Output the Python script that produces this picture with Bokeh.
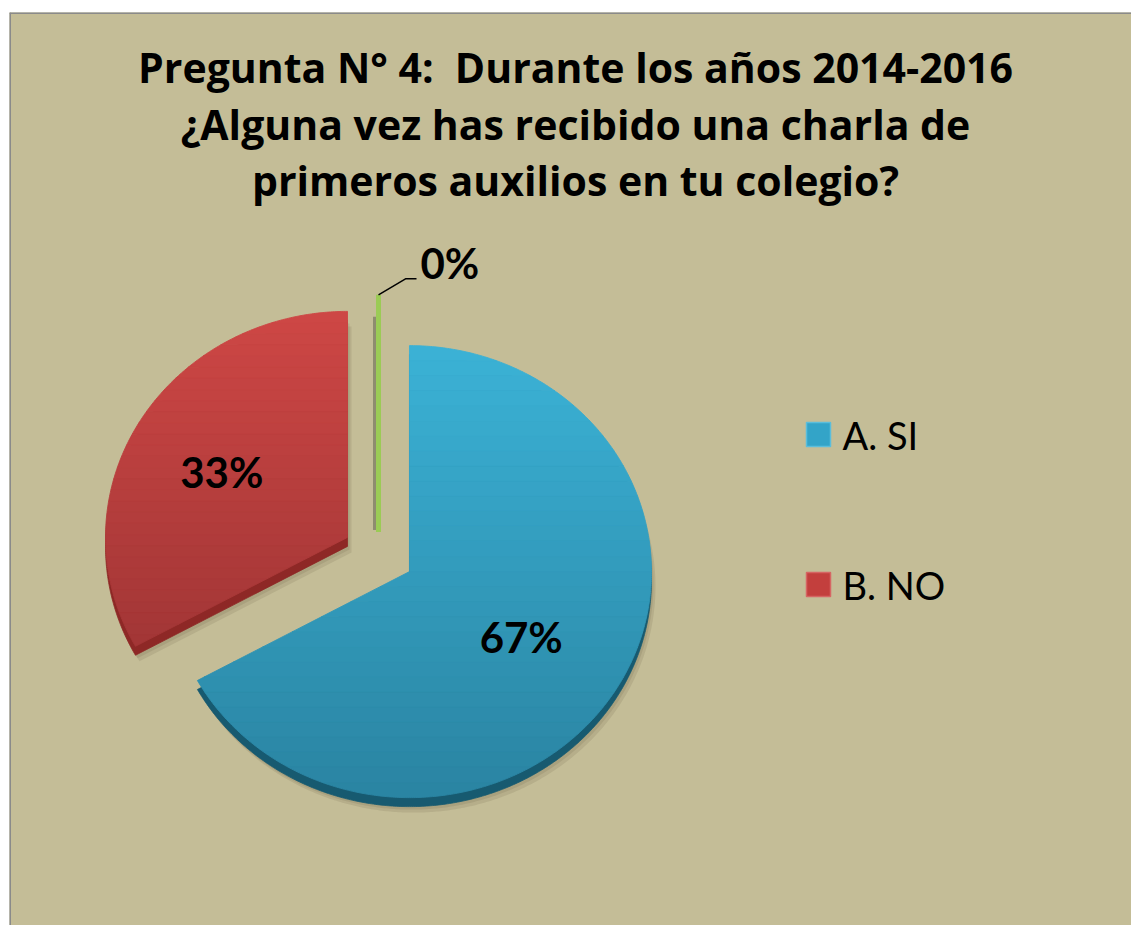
import numpy as np
from bokeh.plotting import figure
from bokeh.models import Range1d, Span, Spacer
from bokeh.layouts import column, row
from bokeh.core.properties import value
from bokeh.embed import file_html
from bokeh.resources import INLINE

# ---------------- data ----------------
title_lines = [
    "Pregunta N° 4: \u00a0Durante los años 2014-2016",
    "¿Alguna vez has recibido una charla de",
    "primeros auxilios en tu colegio?",
]
categories = ["A. SI", "B. NO", ""]
values = [67, 33, 0]
top_colors = ["#3BB2D6", "#CE4745", "#9BCB55"]
bottom_colors = ["#2A84A2", "#A23636", "#7FAF3E"]
side_colors = ["#175A70", "#8E2826", "#5E8A2A"]
legend_colors = ["#33A4C8", "#C33F3D"]
legend_lines = ["#5BBEDC", "#D66563"]

# ---------------- layout / style ----------------
BG = "#C4BD97"
XOFF, YOFF = 9, 12
W, H = 1122, 913
CX, CY = 378, 554
RX, RY = 242, 226
EXPLODE = [36, 36, 24]
RSCALE = [1.0, 1.0, 1.05]
DEPTH = 9
LABEL_DX = -7
FONT = value("Lato")
TFONT = value("Open Sans")

p = figure(width=W, height=H,
           x_range=Range1d(XOFF, XOFF + W), y_range=Range1d(YOFF + H, YOFF),
           output_backend="svg", toolbar_location=None, min_border=0,
           x_axis_location=None, y_axis_location=None,
           background_fill_color=BG, border_fill_color=BG,
           outline_line_color=None)
p.grid.visible = False

p.add_layout(Span(location=XOFF + 0.5, dimension="height", line_color="#8A8A8A", line_width=2))
p.add_layout(Span(location=YOFF + 0.5, dimension="width", line_color="#8A8A8A", line_width=2))


def clip(poly, yv, keep_below):
    def inside(pt):
        return pt[1] >= yv if keep_below else pt[1] <= yv

    def inter(a, b):
        t = (yv - a[1]) / (b[1] - a[1])
        return (a[0] + t * (b[0] - a[0]), yv)

    out = []
    n = len(poly)
    for i in range(n):
        cur, prev = poly[i], poly[i - 1]
        ci, pi = inside(cur), inside(prev)
        if ci:
            if not pi:
                out.append(inter(prev, cur))
            out.append(cur)
        elif pi:
            out.append(inter(prev, cur))
    return out


def hex2rgb(h):
    return np.array([int(h[i:i + 2], 16) for i in (1, 3, 5)], dtype=float)


def rgb2hex(c):
    return "#%02x%02x%02x" % tuple(int(round(v)) for v in c)


total = float(sum(values))
start = 90.0
slices = []
for i, v in enumerate(values):
    sweep = v / total * 360.0
    a0, a1 = start, start - sweep
    mid = (a0 + a1) / 2.0
    vx = CX + EXPLODE[i] * np.cos(np.radians(mid))
    vy = CY - EXPLODE[i] * np.sin(np.radians(mid)) * RY / RX
    slices.append(dict(a0=a0, a1=a1, mid=mid, vx=vx, vy=vy, sweep=sweep))
    start = a1

# shadows and sides
for i, s in enumerate(slices):
    if s["sweep"] <= 0:
        continue
    n = max(4, int(abs(s["sweep"]) * 2))
    ang = np.radians(np.linspace(s["a0"], s["a1"], n))
    px = np.concatenate([[s["vx"]], s["vx"] + RX * np.cos(ang)])
    py = np.concatenate([[s["vy"]], s["vy"] - RY * np.sin(ang)])
    s["px"], s["py"] = px, py
    p.patch(px + 4, py + DEPTH + 6, fill_color="#3A3520", fill_alpha=0.10, line_color=None)
    p.patch(px + 2, py + DEPTH + 3, fill_color="#3A3520", fill_alpha=0.10, line_color=None)
    p.patch(px, py + DEPTH, fill_color=side_colors[i], line_color=side_colors[i], line_width=0.8)

# tops with vertical gradient
for i, s in enumerate(slices):
    if s["sweep"] <= 0:
        continue
    poly = list(zip(s["px"], s["py"]))
    ymin, ymax = s["py"].min(), s["py"].max()
    nb = 30
    edges = np.linspace(ymin, ymax, nb + 1)
    c0, c1 = hex2rgb(top_colors[i]), hex2rgb(bottom_colors[i])
    xs, ys, cols = [], [], []
    for b in range(nb):
        part = clip(poly, edges[b], True)
        part = clip(part, edges[b + 1], False) if part else []
        if len(part) < 3:
            continue
        t = (b + 0.5) / nb
        xs.append([q[0] for q in part])
        ys.append([q[1] for q in part])
        cols.append(rgb2hex(c0 + (c1 - c0) * t))
    p.patches(xs, ys, fill_color=cols, line_color=cols, line_width=0.9)

# zero slice drawn as a thin line
for i, s in enumerate(slices):
    if s["sweep"] > 0:
        continue
    a = np.radians(s["a0"])
    ex = s["vx"] + RX * RSCALE[i] * np.cos(a)
    ey = s["vy"] - RY * RSCALE[i] * np.sin(a)
    p.line([s["vx"] - 3, ex - 3], [s["vy"] - 2, ey + 22], line_color="#6B6A55", line_width=5, line_alpha=0.6)
    p.line([s["vx"], ex], [s["vy"], ey], line_color=top_colors[i], line_width=5)
    s["ex"], s["ey"] = ex, ey

# labels
pct = [f"{round(v / total * 100):.0f}%" for v in values]
lx, ly, lt = [], [], []
for i, s in enumerate(slices):
    if s["sweep"] <= 0:
        continue
    f = 0.57
    lx.append(s["vx"] + f * RX * np.cos(np.radians(s["mid"])) + LABEL_DX)
    ly.append(s["vy"] - f * RY * np.sin(np.radians(s["mid"])))
    lt.append(pct[i])
p.text(x=lx, y=ly, text=lt, text_font=FONT, text_font_style="bold",
       text_font_size="42px", text_align="center", text_baseline="middle", text_color="black")

for i, s in enumerate(slices):
    if s["sweep"] > 0:
        continue
    x1, y1 = s["ex"], s["ey"]
    p.line([x1, x1 + 27, x1 + 38], [y1, y1 - 16, y1 - 16], line_color="black", line_width=1.5)
    p.text(x=[x1 + 42], y=[y1 - 32], text=[pct[i]], text_font=FONT, text_font_style="bold",
           text_font_size="42px", text_align="left", text_baseline="middle", text_color="black")

# title
p.text(x=[575] * 3, y=[66, 123, 179], text=title_lines, text_font=TFONT, text_font_style="bold",
       text_font_size="41px", text_align="center", text_baseline="middle", text_color="black")

# legend
leg_names = [c for c in categories if c]
leg_y = [434 + 150 * k for k in range(len(leg_names))]
p.rect(x=[818] * len(leg_names), y=leg_y, width=24, height=24,
       fill_color=legend_colors[:len(leg_names)], line_color=legend_lines[:len(leg_names)], line_width=1.5)
p.text(x=[842] * len(leg_names), y=leg_y, text=leg_names, text_font=FONT,
       text_font_size="38px", text_align="left", text_baseline="middle", text_color="black")

layout = column(Spacer(height=YOFF), row(Spacer(width=XOFF), p))
open("out.html", "w").write(file_html(layout, INLINE))
